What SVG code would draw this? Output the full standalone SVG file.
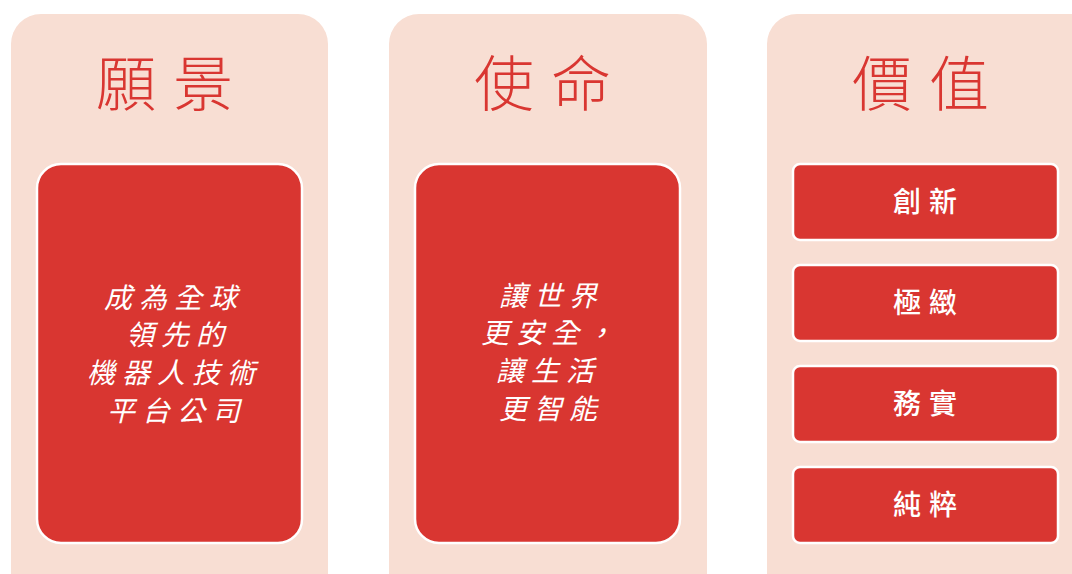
<svg xmlns="http://www.w3.org/2000/svg" width="1072" height="574" viewBox="0 0 1072 574">
<style>
.panel{fill:#F8DED3}
.box{fill:#D93631;stroke:#FFFFFF;stroke-width:2.5}
.title{font-family:"Noto Sans CJK TC","Noto Sans CJK SC",sans-serif;font-size:60px;font-weight:300;fill:#D93631;letter-spacing:17px}
.it{font-family:"Noto Sans CJK TC","Noto Sans CJK SC",sans-serif;font-size:28px;font-style:italic;font-weight:400;fill:#FFFFFF;letter-spacing:7px}
.val{font-family:"Noto Sans CJK TC","Noto Sans CJK SC",sans-serif;font-size:28px;font-weight:500;fill:#FFFFFF;letter-spacing:8px;text-anchor:middle}
</style>
<rect width="1072" height="574" fill="#FFFFFF"/>
<g id="vision">
<rect class="panel" x="11" y="14" width="317" height="600" rx="30"/>
<text class="title" x="96" y="106">願景</text>
<rect class="box" x="37" y="164" width="265" height="379" rx="24"/>
<text class="it" x="104" y="308">成為全球</text>
<text class="it" x="126" y="345">領先的</text>
<text class="it" x="87" y="383">機器人技術</text>
<text class="it" x="107" y="421">平台公司</text>
</g>
<g id="mission">
<rect class="panel" x="389" y="14" width="318" height="600" rx="30"/>
<text class="title" x="474" y="106">使命</text>
<rect class="box" x="415" y="164" width="265" height="379" rx="24"/>
<text class="it" x="499" y="306">讓世界</text>
<text class="it" x="481" y="343">更安全，</text>
<text class="it" x="496" y="381">讓生活</text>
<text class="it" x="499" y="419">更智能</text>
</g>
<g id="values">
<rect class="panel" x="767" y="14" width="340" height="600" rx="30"/>
<text class="title" x="852" y="106">價值</text>
</g>
<g id="v1"><rect class="box" x="793" y="164" width="265" height="76" rx="7"/><text class="val" x="929" y="212">創新</text></g>
<g id="v2"><rect class="box" x="793" y="265" width="265" height="76" rx="7"/><text class="val" x="929" y="313">極緻</text></g>
<g id="v3"><rect class="box" x="793" y="366" width="265" height="76" rx="7"/><text class="val" x="929" y="414">務實</text></g>
<g id="v4"><rect class="box" x="793" y="467" width="265" height="76" rx="7"/><text class="val" x="929" y="515">純粹</text></g>
<g id="connectors"/>
</svg>
